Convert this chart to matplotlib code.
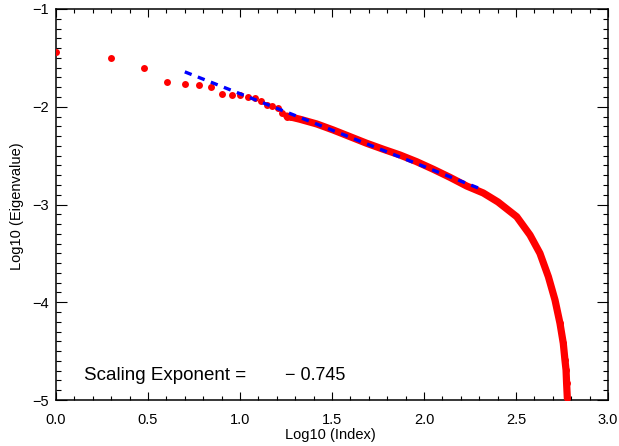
import numpy as np
import matplotlib
matplotlib.use("Agg")
from matplotlib import pyplot as plt
from matplotlib.ticker import MultipleLocator

# log10 of the leading eigenvalues, index 1..19 (read one by one)
lead_index = np.arange(1, 20)
lead_logval = [-1.443, -1.501, -1.600, -1.744, -1.767, -1.774, -1.795, -1.867,
               -1.877, -1.877, -1.903, -1.910, -1.938, -1.985, -1.989, -2.010,
               -2.067, -2.102, -2.108]

# dense tail of the spectrum, read along the band (log10 index, log10 eigenvalue)
tail_logidx = [1.254, 1.326, 1.417, 1.507, 1.598, 1.689, 1.779, 1.870, 1.960,
               2.051, 2.141, 2.232, 2.322, 2.402, 2.504, 2.576, 2.630, 2.676,
               2.712, 2.739, 2.757, 2.766, 2.772, 2.775, 2.779]
tail_logval = [-2.095, -2.128, -2.176, -2.238, -2.306, -2.374, -2.435, -2.494,
               -2.562, -2.640, -2.722, -2.811, -2.882, -2.974, -3.125, -3.312,
               -3.499, -3.739, -3.977, -4.215, -4.420, -4.591, -4.693, -4.829,
               -4.980]

# power law fit
slope = -0.745
intercept = -1.1215
fit_range = [0.7, 2.3]

plt.rcParams['font.family'] = ['Liberation Sans', 'DejaVu Sans']

fig = plt.figure(figsize=(6.19, 4.46), dpi=100)
ax = fig.add_axes([56 / 619, 1 - 400 / 446, 552 / 619, 391 / 446])

red = (1.0, 0.0, 0.0)
blue = (0.0, 0.0, 1.0)

ax.plot(np.log10(lead_index), lead_logval, 'o', color=red, markersize=5.0,
        markeredgewidth=0, zorder=3)
ax.plot(tail_logidx, tail_logval, '-', color=red, linewidth=5.2,
        solid_capstyle='round', solid_joinstyle='round', zorder=3)
ax.plot(tail_logidx[-6:], tail_logval[-6:], 'o', color=red, markersize=5.0,
        markeredgewidth=0, zorder=3)

fx = np.array(fit_range)
ax.plot(fx, intercept + slope * fx, color=blue, linewidth=2.4,
        linestyle=(0, (2.2, 2.0)), dash_capstyle='butt', zorder=4)

ax.set_xlim(0, 3)
ax.set_ylim(-5, -1)
ax.xaxis.set_major_locator(MultipleLocator(0.5))
ax.xaxis.set_minor_locator(MultipleLocator(0.1))
ax.yaxis.set_major_locator(MultipleLocator(1))
ax.yaxis.set_minor_locator(MultipleLocator(0.1))
ax.xaxis.set_major_formatter(matplotlib.ticker.FormatStrFormatter('%.1f'))
ax.yaxis.set_major_formatter(matplotlib.ticker.FuncFormatter(lambda v, p: '\u2212%d' % abs(v)))

ax.tick_params(which='both', direction='in', top=True, right=True, width=0.8,
               labelsize=10.5, colors='black')
ax.tick_params(axis='x', which='major', length=5.5, pad=9)
ax.tick_params(axis='x', which='minor', length=2.7)
ax.tick_params(axis='y', which='major', length=7.9, pad=5)
ax.tick_params(axis='y', which='minor', length=3.6)
for sp in ax.spines.values():
    sp.set_linewidth(1.1)

fig.text(330.5 / 619, 1 - 435 / 446, 'Log10 (Index)', ha='center', va='center',
         fontsize=10.5)
fig.text(16.7 / 619, 1 - 206 / 446, 'Log10 (Eigenvalue)', ha='center',
         va='center', rotation=90, fontsize=10.5)

ax.text(0.15, -4.80, 'Scaling Exponent =', fontsize=13.5, va='baseline')
ax.text(1.247, -4.80, '\u2212 0.745', fontsize=13, va='baseline')

fig.savefig('out.png', dpi=100)
